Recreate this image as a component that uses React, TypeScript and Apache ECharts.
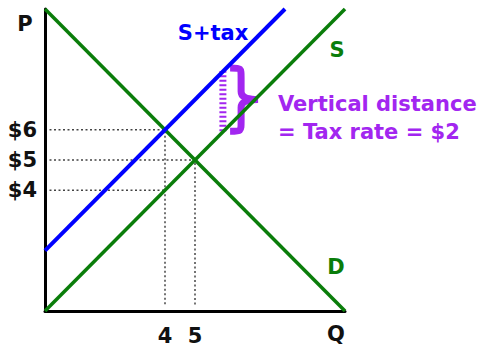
import React, { useEffect, useRef } from "react";
import * as echarts from "echarts";

// Curves: [quantity, price] endpoints
const demandPts: number[][] = [[0, 10], [10, 0]];
const supplyPts: number[][] = [[0, 0], [10, 10]];
const taxSupplyPts: number[][] = [[0, 2], [8, 10]];
// Guide lines
const guide6: number[][] = [[0.15, 6], [4, 6], [4, 0.15]];
const guide5: number[][] = [[0.15, 5], [5, 5], [5, 0.15]];
const guide4: number[][] = [[0.15, 4], [4, 4]];
// Tax gap marker (quantity, low price, high price)
const taxGap: number[][] = [[5.93, 5.95], [5.93, 7.95]];
const braceAnchor: number[][] = [[6.17, 8.05, 5.95]];
// Tick labels
const priceTicks = [4, 5, 6];
const qtyTicks = [4, 5];

const GREEN = "#0a7d0a";
const BLUE = "#0000ff";
const PURPLE = "#a226f0";
const FONT = "DejaVu Sans";
const FS = 21;

export default function App() {
  const ref = useRef<HTMLDivElement>(null);
  useEffect(() => {
    const chart = echarts.init(ref.current!, null, { renderer: "svg" });
    const dotted = (data: number[][]) => ({
      type: "line",
      data,
      symbol: "none",
      silent: true,
      z: 1,
      lineStyle: { color: "#444", width: 1.5, type: [2, 2.5] },
    });
    const txt = (x: number, y: number, text: string, fill: string, align = "center") => ({
      type: "text",
      x,
      y,
      style: { text, fontFamily: FONT, fontWeight: "bold", fontSize: FS, fill, align, verticalAlign: "middle" },
    });
    chart.setOption({
      animation: false,
      grid: { left: 45, top: 9, width: 300, height: 302 },
      xAxis: {
        type: "value",
        min: 0,
        max: 10,
        interval: 1,
        axisLine: { show: true, lineStyle: { color: "#000", width: 3 } },
        axisTick: { show: false },
        splitLine: { show: false },
        axisLabel: {
          margin: 14,
          fontFamily: FONT,
          fontWeight: "bold",
          fontSize: FS,
          color: "#111",
          formatter: (v: number) => (qtyTicks.includes(v) ? String(v) : ""),
        },
      },
      yAxis: {
        type: "value",
        min: 0,
        max: 10,
        interval: 1,
        axisLine: { show: true, lineStyle: { color: "#000", width: 3 } },
        axisTick: { show: false },
        splitLine: { show: false },
        axisLabel: {
          margin: 8,
          fontFamily: FONT,
          fontWeight: "bold",
          fontSize: FS,
          color: "#111",
          formatter: (v: number) => (priceTicks.includes(v) ? "$" + v : ""),
        },
      },
      series: [
        dotted(guide6),
        dotted(guide5),
        dotted(guide4),
        {
          type: "line",
          data: taxGap,
          symbol: "none",
          silent: true,
          lineStyle: { color: PURPLE, width: 7, type: [2, 2.5] },
        },
        {
          type: "custom",
          data: braceAnchor,
          silent: true,
          renderItem: (params: any, api: any) => {
            const [x0, yT] = api.coord([api.value(0), api.value(1)]);
            const [, yB] = api.coord([api.value(0), api.value(2)]);
            const xm = x0 + 11;
            const xt = x0 + 28;
            const yM = (yT + yB) / 2;
            const d =
              `M ${x0} ${yT} C ${xm} ${yT} ${xm} ${yT} ${xm} ${yT + 10} ` +
              `L ${xm} ${yM - 8} Q ${xm} ${yM} ${xt} ${yM} ` +
              `Q ${xm} ${yM} ${xm} ${yM + 8} L ${xm} ${yB - 10} ` +
              `C ${xm} ${yB} ${xm} ${yB} ${x0} ${yB}`;
            return {
              type: "path",
              shape: { pathData: d },
              style: { stroke: PURPLE, lineWidth: 7, fill: "none" },
            };
          },
        },
        {
          type: "line",
          data: demandPts,
          symbol: "none",
          silent: true,
          lineStyle: { color: GREEN, width: 3.5 },
        },
        {
          type: "line",
          data: supplyPts,
          symbol: "none",
          silent: true,
          lineStyle: { color: GREEN, width: 3.5 },
        },
        {
          type: "line",
          data: taxSupplyPts,
          symbol: "none",
          silent: true,
          lineStyle: { color: BLUE, width: 4 },
        },
      ],
      graphic: [
        txt(25, 24, "P", "#111"),
        txt(336, 334, "Q", "#111"),
        txt(213, 33, "S+tax", BLUE),
        txt(337, 50, "S", GREEN),
        txt(336, 267, "D", GREEN),
        txt(278, 104, "Vertical distance", PURPLE, "left"),
        txt(278, 132, "= Tax rate = $2", PURPLE, "left"),
      ],
    });
    return () => chart.dispose();
  }, []);
  return (
    <div
      ref={ref}
      style={{ position: "fixed", left: 0, top: 0, width: 489, height: 347, background: "#fff" }}
    />
  );
}
